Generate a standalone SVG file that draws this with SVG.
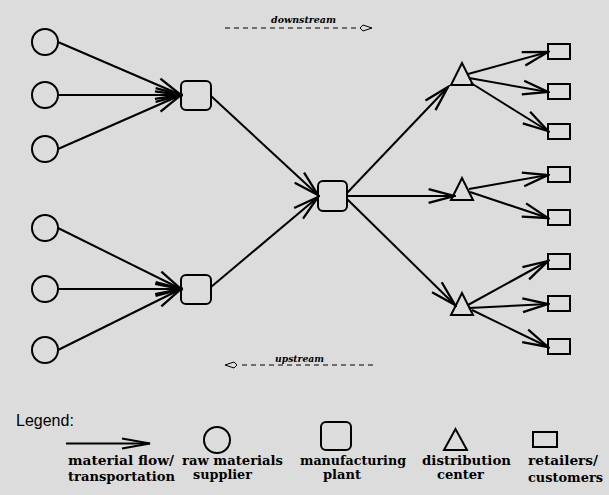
<svg xmlns="http://www.w3.org/2000/svg" width="609" height="495" viewBox="0 0 609 495">
<style>
.bg{fill:#dcdcdc}
.sh{fill:none;stroke:#000;stroke-width:2}
.ln{fill:none;stroke:#000;stroke-width:2;marker-end:url(#ah)}
.dash{fill:none;stroke:#000;stroke-width:1;stroke-dasharray:5 4}
.hd{fill:none;stroke:#000;stroke-width:1}
.lab{font-family:"DejaVu Serif","Liberation Serif",serif;font-weight:bold;font-size:12px;fill:#000}
.dir{font-family:"DejaVu Serif","Liberation Serif",serif;font-weight:bold;font-style:italic;font-size:10px;fill:#000}
.leg{font-family:"Liberation Sans",Arial,sans-serif;font-size:16px;fill:#000}
</style>
<defs>
<marker id="ah" markerUnits="userSpaceOnUse" markerWidth="30" markerHeight="20" viewBox="-24 -8 26 16" refX="0" refY="0" orient="auto">
<path d="M-22,-6 L0,0 L-22,6" fill="none" stroke="#000" stroke-width="2"/>
</marker>
<marker id="ahl" markerUnits="userSpaceOnUse" markerWidth="32" markerHeight="16" viewBox="-30 -7 32 14" refX="0" refY="0" orient="auto">
<path d="M-28,-5 L0,0 L-28,5" fill="none" stroke="#000" stroke-width="2"/>
</marker>
</defs>
<rect class="bg" x="0" y="0" width="609" height="495"/>

<g id="flow-direction">
<text class="dir" x="271" y="22.5" textLength="65" lengthAdjust="spacingAndGlyphs">downstream</text>
<line class="dash" x1="225" y1="28" x2="360" y2="28"/>
<polygon class="hd" points="372,28 363,25 360,28 363,31"/>
<text class="dir" x="275" y="362" textLength="49" lengthAdjust="spacingAndGlyphs">upstream</text>
<line class="dash" x1="373" y1="365" x2="238" y2="365"/>
<polygon class="hd" points="225,365 234,362 237,365 234,368"/>
</g>

<g id="connectors">
<line class="ln" x1="58" y1="42" x2="181" y2="95"/>
<line class="ln" x1="58" y1="95" x2="181" y2="95"/>
<line class="ln" x1="58" y1="149" x2="181" y2="95"/>
<line class="ln" x1="58" y1="228" x2="181" y2="289"/>
<line class="ln" x1="58" y1="289" x2="181" y2="289"/>
<line class="ln" x1="58" y1="350" x2="181" y2="289"/>
<line class="ln" x1="211" y1="96" x2="318" y2="195"/>
<line class="ln" x1="211" y1="287" x2="318" y2="197"/>
<line class="ln" x1="347" y1="193" x2="448" y2="87"/>
<line class="ln" x1="347" y1="196" x2="454" y2="196"/>
<line class="ln" x1="347" y1="199" x2="455" y2="305"/>
<line class="ln" x1="468" y1="74" x2="548" y2="52"/>
<line class="ln" x1="469" y1="78" x2="548" y2="92"/>
<line class="ln" x1="471" y1="83" x2="548" y2="131"/>
<line class="ln" x1="469" y1="189" x2="548" y2="175"/>
<line class="ln" x1="470" y1="192" x2="548" y2="218"/>
<line class="ln" x1="468" y1="305" x2="548" y2="261"/>
<line class="ln" x1="469" y1="308" x2="548" y2="304"/>
<line class="ln" x1="472" y1="310" x2="548" y2="347"/>
</g>

<g id="supplier-1"><circle class="sh" cx="45" cy="42" r="13"/></g>
<g id="supplier-2"><circle class="sh" cx="45" cy="95" r="13"/></g>
<g id="supplier-3"><circle class="sh" cx="45" cy="149" r="13"/></g>
<g id="supplier-4"><circle class="sh" cx="45" cy="228" r="13"/></g>
<g id="supplier-5"><circle class="sh" cx="45" cy="289" r="13"/></g>
<g id="supplier-6"><circle class="sh" cx="45" cy="350" r="13"/></g>

<g id="plant-1"><rect class="sh" x="181" y="81" width="30" height="29" rx="5"/></g>
<g id="plant-2"><rect class="sh" x="181" y="275" width="30" height="29" rx="5"/></g>
<g id="plant-3"><rect class="sh" x="318" y="181" width="29" height="30" rx="5"/></g>

<g id="dc-1"><polygon class="sh" points="462,63 451,85 473,85"/></g>
<g id="dc-2"><polygon class="sh" points="462,178 451,200 473,200"/></g>
<g id="dc-3"><polygon class="sh" points="462,293 451,315 473,315"/></g>

<g id="retailer-1"><rect class="sh" x="548" y="44" width="22" height="15"/></g>
<g id="retailer-2"><rect class="sh" x="548" y="84" width="22" height="15"/></g>
<g id="retailer-3"><rect class="sh" x="548" y="124" width="22" height="15"/></g>
<g id="retailer-4"><rect class="sh" x="548" y="167" width="22" height="15"/></g>
<g id="retailer-5"><rect class="sh" x="548" y="210" width="22" height="15"/></g>
<g id="retailer-6"><rect class="sh" x="548" y="254" width="22" height="15"/></g>
<g id="retailer-7"><rect class="sh" x="548" y="296" width="22" height="15"/></g>
<g id="retailer-8"><rect class="sh" x="548" y="339" width="22" height="15"/></g>

<g id="legend">
<text class="leg" x="16" y="426">Legend:</text>
<line x1="66" y1="443.5" x2="150" y2="443.5" stroke="#000" stroke-width="2" marker-end="url(#ahl)"/>
<text class="lab" x="68" y="465" textLength="106" lengthAdjust="spacingAndGlyphs">material flow/</text>
<text class="lab" x="68" y="481" textLength="107" lengthAdjust="spacingAndGlyphs">transportation</text>
<circle class="sh" cx="217" cy="440" r="13"/>
<text class="lab" x="182" y="465" textLength="101" lengthAdjust="spacingAndGlyphs">raw materials</text>
<text class="lab" x="193" y="479" textLength="59" lengthAdjust="spacingAndGlyphs">supplier</text>
<rect class="sh" x="321" y="422" width="30" height="28" rx="5"/>
<text class="lab" x="300" y="465" textLength="106" lengthAdjust="spacingAndGlyphs">manufacturing</text>
<text class="lab" x="323" y="479" textLength="38" lengthAdjust="spacingAndGlyphs">plant</text>
<polygon class="sh" points="455.5,429 444,450 467,450"/>
<text class="lab" x="422" y="465" textLength="89" lengthAdjust="spacingAndGlyphs">distribution</text>
<text class="lab" x="437" y="479" textLength="47" lengthAdjust="spacingAndGlyphs">center</text>
<rect class="sh" x="533" y="432" width="24" height="15"/>
<text class="lab" x="528" y="465" textLength="70" lengthAdjust="spacingAndGlyphs">retailers/</text>
<text class="lab" x="528" y="482" textLength="75" lengthAdjust="spacingAndGlyphs">customers</text>
</g>
</svg>
